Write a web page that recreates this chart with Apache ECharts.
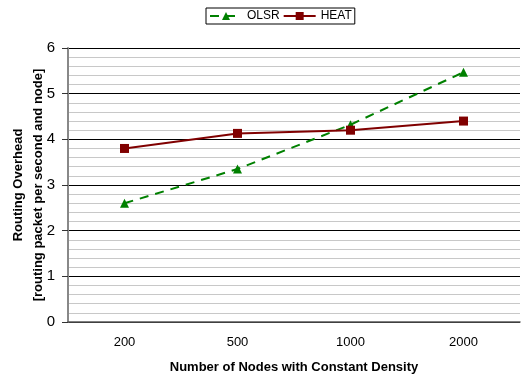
<!DOCTYPE html>
<html>
<head>
<meta charset="utf-8">
<script src="https://cdn.jsdelivr.net/npm/echarts@6/dist/echarts.min.js"></script>
<style>
  html, body { margin: 0; padding: 0; background: #fff; }
  #chart { width: 521px; height: 375px; }
</style>
</head>
<body>
<div id="chart"></div>
<script>
// 节点数量
const nodes = ['200', '500', '1000', '2000'];
// 路由开销
const olsr = [2.6, 3.35, 4.32, 5.47];
const heat = [3.8, 4.13, 4.2, 4.4];

const myChart = echarts.init(document.getElementById('chart'));
const font = 'Liberation Sans, Arial, sans-serif';

const option = {
  animation: false,
  textStyle: { fontFamily: font },
  legend: {
    top: 8,
    left: 206,
    itemGap: 3,
    itemWidth: 32,
    itemHeight: 10,
    padding: [2, 3, 2, 3],
    borderColor: '#000',
    borderWidth: 1,
    textStyle: { fontSize: 12, color: '#000', fontFamily: font },
    data: ['OLSR', 'HEAT'],
  },
  grid: {
    left: 68,
    right: 1,
    top: 48,
    bottom: 53,
    containLabel: false,
    outerBoundsMode: 'none',
  },
  xAxis: {
    type: 'category',
    data: nodes,
    boundaryGap: true,
    name: 'Number of Nodes with Constant Density',
    nameLocation: 'middle',
    nameGap: 39,
    nameTextStyle: { fontSize: 13, fontWeight: 'bold', color: '#000' },
    axisLine: { lineStyle: { color: '#555', width: 1.5 } },
    axisTick: { length: 4, lineStyle: { color: '#333' } },
    axisLabel: { fontSize: 13, color: '#000', margin: 14 },
  },
  yAxis: {
    type: 'value',
    min: 0,
    max: 6,
    interval: 1,
    name: 'Routing Overhead\n[routing packet per second and node]',
    nameLocation: 'middle',
    nameGap: 20,
    nameRotate: 90,
    nameMoveOverlap: false,
    nameTextStyle: { fontSize: 13, fontWeight: 'bold', color: '#000', lineHeight: 20 },
    axisLine: { show: true, lineStyle: { color: '#888', width: 2 } },
    axisTick: { show: true, length: 6, lineStyle: { color: '#333' } },
    axisLabel: { fontSize: 15, color: '#000', margin: 13 },
    splitLine: { lineStyle: { color: '#000', width: 1 } },
    minorTick: { show: false, splitNumber: 5 },
    minorSplitLine: { show: true, lineStyle: { color: '#c8c8c8', width: 1 } },
  },
  series: [
    {
      name: 'OLSR',
      type: 'line',
      data: olsr,
      symbol: 'triangle',
      symbolSize: 9,
      itemStyle: { color: '#008000' },
      lineStyle: { color: '#008000', width: 2, type: [9, 7] },
    },
    {
      name: 'HEAT',
      type: 'line',
      data: heat,
      symbol: 'rect',
      symbolSize: 9,
      itemStyle: { color: '#800000' },
      lineStyle: { color: '#800000', width: 2 },
    },
  ],
};

option && myChart.setOption(option);
</script>
</body>
</html>
